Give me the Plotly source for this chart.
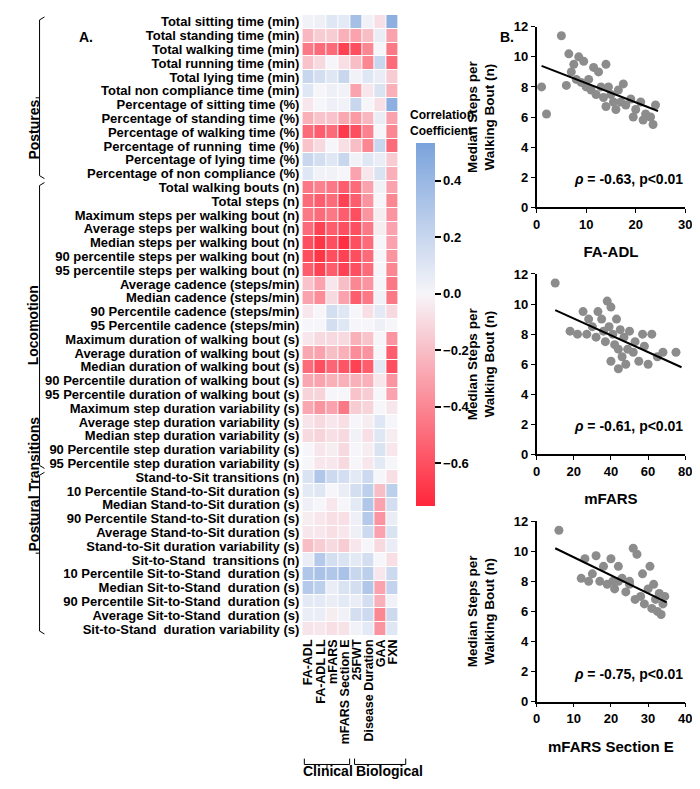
import plotly.graph_objects as go

# ---- heatmap data (Spearman rho) ----
row_labels = [
    "Total sitting time (min)", "Total standing time (min)", "Total walking time (min)",
    "Total running time (min)", "Total lying time (min)", "Total non compliance time (min)",
    "Percentage of sitting time (%)", "Percentage of standing time (%)",
    "Percentage of walking time (%)", "Percentage of running  time (%)",
    "Percentage of lying time (%)", "Percentage of non compliance (%)",
    "Total walking bouts (n)", "Total steps (n)", "Maximum steps per walking bout (n)",
    "Average steps per walking bout (n)", "Median steps per walking bout (n)",
    "90 percentile steps per walking bout (n)", "95 percentile steps per walking bout (n)",
    "Average cadence (steps/min)", "Median cadence (steps/min)",
    "90 Percentile cadence (steps/min)", "95 Percentile cadence (steps/min)",
    "Maximum duration of walking bout (s)", "Average duration of walking bout (s)",
    "Median duration of walking bout (s)", "90 Percentile duration of walking bout (s)",
    "95 Percentile duration of walking bout (s)", "Maximum step duration variability (s)",
    "Average step duration variability (s)", "Median step duration variability (s)",
    "90 Percentile step duration variability (s)", "95 Percentile step duration variability (s)",
    "Stand-to-Sit transitions (n)", "10 Percentile Stand-to-Sit duration (s)",
    "Median Stand-to-Sit duration (s)", "90 Percentile Stand-to-Sit duration (s)",
    "Average Stand-to-Sit duration (s)", "Stand-to-Sit duration variability (s)",
    "Sit-to-Stand  transitions (n)", "10 Percentile Sit-to-Stand  duration (s)",
    "Median Sit-to-Stand  duration (s)", "90 Percentile Sit-to-Stand  duration (s)",
    "Average Sit-to-Stand  duration (s)", "Sit-to-Stand  duration variability (s)",
]
col_labels = ["FA-ADL", "FA-ADL LL", "mFARS", "mFARS Section E", "25FWT",
              "Disease Duration", "GAA", "FXN"]

rho = [
    [0.02, 0.03, 0.10, 0.08, 0.35, 0.02, -0.08, 0.45],
    [-0.22, -0.15, -0.15, -0.25, -0.30, -0.20, 0.05, -0.30],
    [-0.45, -0.50, -0.50, -0.65, -0.60, -0.40, 0.00, -0.45],
    [-0.18, -0.10, 0.00, -0.08, -0.20, -0.40, 0.20, -0.50],
    [0.20, 0.15, 0.10, 0.20, 0.02, 0.10, 0.05, -0.15],
    [0.10, 0.00, 0.03, 0.02, -0.30, -0.05, 0.12, -0.25],
    [-0.05, 0.00, 0.03, 0.02, 0.20, 0.00, -0.08, 0.45],
    [-0.25, -0.18, -0.18, -0.28, -0.33, -0.22, 0.05, -0.30],
    [-0.50, -0.55, -0.50, -0.68, -0.60, -0.42, 0.00, -0.40],
    [-0.18, -0.10, 0.00, -0.08, -0.20, -0.40, 0.20, -0.50],
    [0.20, 0.15, 0.10, 0.20, 0.02, 0.10, 0.05, -0.15],
    [0.10, 0.02, 0.02, 0.00, -0.30, -0.05, 0.12, -0.25],
    [-0.45, -0.42, -0.45, -0.55, -0.50, -0.30, 0.02, -0.30],
    [-0.50, -0.55, -0.50, -0.65, -0.55, -0.35, 0.00, -0.40],
    [-0.45, -0.50, -0.45, -0.55, -0.60, -0.35, -0.03, -0.35],
    [-0.50, -0.65, -0.55, -0.60, -0.60, -0.45, -0.03, -0.30],
    [-0.60, -0.70, -0.60, -0.72, -0.60, -0.50, 0.00, -0.30],
    [-0.60, -0.70, -0.60, -0.65, -0.60, -0.50, 0.00, -0.35],
    [-0.55, -0.65, -0.55, -0.65, -0.60, -0.50, 0.00, -0.40],
    [-0.18, -0.30, -0.05, -0.20, -0.40, -0.35, 0.00, -0.45],
    [-0.30, -0.38, -0.10, -0.30, -0.55, -0.45, 0.02, -0.45],
    [-0.05, 0.00, 0.15, 0.10, 0.00, -0.08, 0.08, -0.10],
    [0.00, 0.00, 0.15, 0.10, 0.00, 0.00, 0.03, 0.00],
    [-0.05, -0.10, -0.10, -0.10, -0.25, -0.18, 0.00, -0.35],
    [-0.28, -0.30, -0.20, -0.25, -0.38, -0.35, 0.00, -0.55],
    [-0.50, -0.60, -0.52, -0.58, -0.65, -0.55, 0.08, -0.60],
    [-0.28, -0.30, -0.25, -0.25, -0.25, -0.25, -0.05, -0.35],
    [-0.12, -0.12, 0.00, 0.00, -0.18, -0.15, 0.00, -0.30],
    [-0.28, -0.35, -0.30, -0.45, -0.15, -0.12, 0.00, -0.05],
    [-0.06, -0.10, -0.05, -0.08, 0.00, -0.03, 0.10, 0.00],
    [-0.10, -0.12, -0.08, -0.10, 0.02, -0.08, 0.10, -0.03],
    [0.00, -0.05, -0.03, -0.10, 0.00, -0.03, 0.12, -0.05],
    [0.00, -0.05, -0.05, -0.10, 0.00, -0.05, 0.08, 0.00],
    [0.12, 0.30, 0.18, 0.15, 0.08, 0.18, 0.00, -0.08],
    [0.08, 0.10, 0.00, 0.05, 0.15, 0.25, -0.20, 0.25],
    [0.03, 0.00, -0.05, 0.00, 0.08, 0.30, -0.30, 0.15],
    [-0.03, -0.05, -0.08, -0.08, 0.03, 0.28, -0.35, 0.05],
    [-0.05, -0.05, -0.08, -0.05, 0.03, 0.18, -0.30, 0.12],
    [-0.20, -0.15, -0.10, -0.15, -0.05, 0.00, -0.10, 0.05],
    [0.05, 0.28, 0.15, 0.12, 0.08, 0.15, 0.00, -0.08],
    [0.30, 0.33, 0.30, 0.33, 0.20, 0.25, -0.05, 0.18],
    [0.28, 0.25, 0.05, 0.12, 0.15, 0.30, -0.30, 0.22],
    [0.08, 0.08, 0.05, 0.08, 0.05, 0.15, -0.25, 0.02],
    [0.05, 0.05, -0.03, 0.02, 0.15, 0.18, -0.40, 0.18],
    [-0.06, -0.05, -0.08, -0.07, 0.02, 0.08, -0.35, 0.10],
]

groups = ["Postures", "Locomotion", "Postural Transitions"]
group_rows = [12, 21, 12]

# ---- scatter data (panel B) ----
faadl_x = [1, 2, 5, 6, 6.5, 7, 7.5, 8, 8.5, 9, 9.5, 10, 10.5, 11, 11.5, 12, 12.5, 13,
           13.5, 14, 14, 14.5, 15, 15.5, 16, 16.5, 17, 17.5, 18, 19, 19.5, 20, 21,
           21.5, 22, 23, 23.5, 24]
faadl_y = [8.0, 6.2, 11.4, 8.1, 10.2, 9.0, 9.5, 8.5, 10.0, 8.3, 9.7, 8.0, 8.5, 7.8,
           9.3, 7.5, 9.0, 8.0, 7.3, 9.5, 6.7, 8.0, 7.5, 7.0, 6.5, 7.8, 7.0, 8.2, 6.8,
           7.2, 6.0, 6.5, 7.0, 5.8, 6.2, 6.0, 5.5, 6.8]
faadl_fit_x = [1, 24.5]
faadl_fit_y = [9.4, 6.4]

mfars_x = [10, 18, 22, 25, 27, 28, 30, 32, 33, 35, 36, 37, 38, 39, 40, 40, 41, 42,
           43, 44, 44, 45, 46, 47, 48, 49, 50, 52, 53, 55, 57, 58, 60, 62, 65, 68, 75]
mfars_y = [11.4, 8.2, 8.0, 9.5, 8.0, 9.0, 8.5, 7.8, 9.5, 9.0, 8.2, 7.5, 10.2, 8.5,
           9.8, 6.2, 8.0, 7.3, 9.0, 7.0, 5.7, 8.3, 6.5, 7.8, 6.0, 7.0, 8.2, 6.8, 7.5,
           6.2, 8.0, 7.2, 6.0, 8.0, 6.5, 6.8, 6.8]
mfars_fit_x = [10, 78]
mfars_fit_y = [9.6, 5.8]

sece_x = [6, 12, 13, 14, 15, 16, 17, 18, 19, 20, 20.5, 21, 22, 22, 23, 24, 25, 25,
          26, 26.5, 27, 28, 28.5, 29, 30, 30.5, 31, 31.5, 32, 32.5, 33, 33.5, 34, 34.5]
sece_y = [11.4, 8.2, 9.5, 8.0, 8.5, 9.7, 8.0, 9.0, 7.8, 9.5, 8.0, 7.5, 9.0, 8.0, 8.2,
          7.3, 8.0, 7.8, 10.2, 6.8, 9.8, 7.0, 8.5, 6.5, 7.5, 9.0, 6.2, 7.8, 6.8, 6.0,
          7.2, 5.8, 6.5, 7.0]
sece_fit_x = [5, 35]
sece_fit_y = [10.2, 6.6]

scatter_titles = ["FA-ADL", "mFARS", "mFARS Section E"]
scatter_ranges = [[0, 30], [0, 80], [0, 40]]
scatter_dticks = [10, 20, 10]
rho_text = ["-0.63", "-0.61", "-0.75"]

# ---- layout constants (pixels in a 700 x 789 canvas) ----
W, H = 700, 789
FONT = "Liberation Sans"
hm_left, hm_right, hm_top, hm_bot = 295, 393, 0, 633
cb_left, cb_top, cb_bot = 400, 130, 500


def px(x):
    return x / W


def py(y):
    return 1 - y / H


zmin, zmax = -0.75, 0.535
zero = -zmin / (zmax - zmin)
colorscale = [[0, "rgb(255,38,58)"], [zero, "rgb(246,245,249)"], [1, "rgb(122,163,220)"]]

fig = go.Figure()
fig.add_trace(go.Heatmap(
    z=rho, x=col_labels, y=row_labels, zmin=zmin, zmax=zmax,
    colorscale=colorscale, xgap=1, ygap=1,
    colorbar=dict(
        x=px(cb_left), xanchor="left", y=py(cb_top), yanchor="top",
        len=(cb_bot - cb_top) / H, thickness=19, outlinewidth=0, ypad=0,
        tickvals=[0.4, 0.2, 0.0, -0.2, -0.4, -0.6],
        ticktext=["<b>0.4</b>", "<b>0.2</b>", "<b>0.0</b>", "<b>\u22120.2</b>",
                  "<b>\u22120.4</b>", "<b>\u22120.6</b>"],
        ticks="outside", ticklen=6, tickwidth=2, tickcolor="black",
        tickfont=dict(family=FONT, size=13, color="black"),
    ),
))
fig.add_annotation(xref="paper", yref="paper", x=px(cb_left + 2), y=py(cb_top - 3),
                   xanchor="left", yanchor="bottom", align="left",
                   text="<b>Correlation<br>Coefficient</b>", showarrow=False,
                   font=dict(family=FONT, size=12, color="black"))

fig.update_layout(
    xaxis=dict(domain=[px(hm_left), px(hm_right)], side="bottom", tickangle=-90,
               tickmode="array", tickvals=col_labels,
               ticktext=["<b>%s</b>" % c for c in col_labels],
               tickfont=dict(family=FONT, size=12.5, color="black"),
               showgrid=False, zeroline=False, ticks="", anchor="y"),
    yaxis=dict(domain=[py(hm_bot), py(hm_top)], autorange="reversed",
               tickmode="array", tickvals=row_labels,
               ticktext=["<b>%s</b>" % r for r in row_labels],
               tickfont=dict(family=FONT, size=13, color="black"),
               showgrid=False, zeroline=False, ticks="", ticklabelstandoff=2, anchor="x"),
)

# scatter panels
sc_data = [(faadl_x, faadl_y, faadl_fit_x, faadl_fit_y),
           (mfars_x, mfars_y, mfars_fit_x, mfars_fit_y),
           (sece_x, sece_y, sece_fit_x, sece_fit_y)]
panel_tops = [12, 264, 516]
panel_h = 184
for i, (sx, sy, fx, fy) in enumerate(sc_data):
    n = i + 2
    xa, ya = "x%d" % n, "y%d" % n
    fig.add_trace(go.Scatter(x=sx, y=sy, mode="markers", xaxis=xa, yaxis=ya,
                             marker=dict(size=9, color="rgb(140,140,140)"),
                             showlegend=False))
    fig.add_trace(go.Scatter(x=fx, y=fy, mode="lines", xaxis=xa, yaxis=ya,
                             line=dict(color="black", width=2), showlegend=False))
    top = panel_tops[i]
    axis_font = dict(family=FONT, size=13, color="black")
    fig.layout["xaxis%d" % n] = dict(
        domain=[px(533), px(684)], anchor=ya, range=scatter_ranges[i],
        dtick=scatter_dticks[i], showline=True, linecolor="black", linewidth=1.5,
        ticks="outside", ticklen=4, tickcolor="black", showgrid=False, zeroline=False,
        tickfont=axis_font,
        tickprefix="<b>", ticksuffix="</b>",
        title=dict(text="<b>%s</b>" % scatter_titles[i], standoff=16,
                   font=dict(family=FONT, size=15, color="black")))
    fig.layout["yaxis%d" % n] = dict(
        domain=[py(top + panel_h), py(top)], anchor=xa, range=[0, 12], dtick=2,
        showline=True, linecolor="black", linewidth=1.5,
        ticks="outside", ticklen=4, tickcolor="black", showgrid=False, zeroline=False,
        tickfont=axis_font, tickprefix="<b>", ticksuffix="</b>",
        title=dict(text="<b>Median Steps per<br>Walking Bout (n)</b>", standoff=16,
                   font=dict(family=FONT, size=13.5, color="black")))
    fig.add_annotation(xref="%s domain" % xa, yref="%s domain" % ya, x=0.62, y=0.1,
                       text="<b><i>\u03c1</i> = %s, p&lt;0.01</b>" % rho_text[i],
                       showarrow=False, font=dict(family=FONT, size=14, color="black"))

# group brackets and labels on the left
row_h = (hm_bot - hm_top) / len(row_labels)
start = 0
for g, nrows in zip(groups, group_rows):
    y0 = hm_top + start * row_h + 2
    y1 = hm_top + (start + nrows) * row_h - 2
    ym = (y0 + y1) / 2
    bx = 28
    path = "M %f %f L %f %f L %f %f L %f %f M %f %f L %f %f" % (
        px(bx + 5), py(y0), px(bx), py(y0 + 3), px(bx), py(y1 - 3),
        px(bx + 5), py(y1), px(bx), py(ym), px(bx - 4), py(ym))
    fig.add_shape(type="path", xref="paper", yref="paper", path=path,
                  line=dict(color="black", width=1))
    fig.add_annotation(xref="paper", yref="paper", x=px(12), y=py(ym), text="<b>%s</b>" % g,
                       textangle=-90, showarrow=False,
                       font=dict(family=FONT, size=14, color="black"))
    start += nrows

# bottom brackets
for (x0, x1, lab, lx) in [(297, 343, "Clinical", 321), (348, 400, "Biological", 384)]:
    xm = (x0 + x1) / 2
    path = "M %f %f L %f %f L %f %f L %f %f M %f %f L %f %f" % (
        px(x0), py(758), px(x0), py(764), px(x1), py(764), px(x1), py(758),
        px(xm), py(764), px(xm), py(768))
    fig.add_shape(type="path", xref="paper", yref="paper", path=path,
                  line=dict(color="black", width=1))
    fig.add_annotation(xref="paper", yref="paper", x=px(lx), y=py(781), text="<b>%s</b>" % lab,
                       showarrow=False, font=dict(family=FONT, size=14, color="black"))

fig.add_annotation(xref="paper", yref="paper", x=px(66), y=py(12), text="<b>A.</b>",
                   showarrow=False, font=dict(family=FONT, size=14, color="black"))
fig.add_annotation(xref="paper", yref="paper", x=px(512), y=py(12), text="<b>B.</b>",
                   showarrow=False, font=dict(family=FONT, size=14, color="black"))

fig.update_layout(width=W, height=H, margin=dict(l=0, r=0, t=0, b=0),
                  plot_bgcolor="white", paper_bgcolor="white",
                  font=dict(family=FONT, color="black"), showlegend=False)

fig.write_html("out.html")
